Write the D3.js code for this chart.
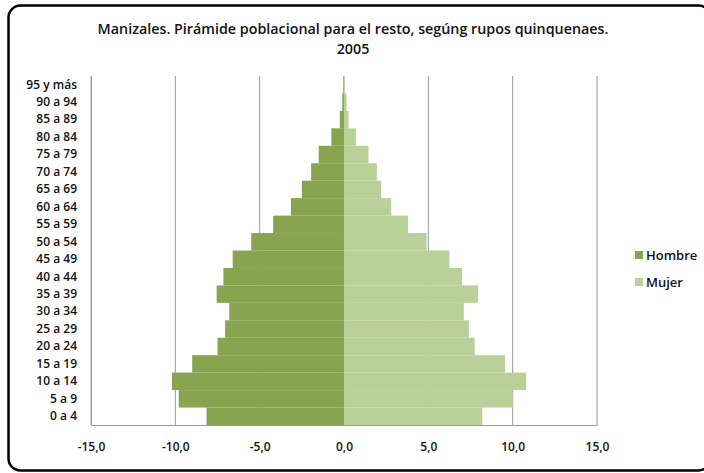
<!DOCTYPE html>
<html>
<head>
<meta charset="utf-8">
<script src="https://cdn.jsdelivr.net/npm/d3@7"></script>
<style>
  body { margin: 0; background: #fff; }
  svg text { font-family: "Open Sans", "Noto Sans", sans-serif; fill: #111; }
</style>
</head>
<body>
<div id="chart"></div>
<script>
const ageGroups = ['0 a 4', '5 a 9', '10 a 14', '15 a 19', '20 a 24', '25 a 29', '30 a 34',
  '35 a 39', '40 a 44', '45 a 49', '50 a 54', '55 a 59', '60 a 64', '65 a 69', '70 a 74',
  '75 a 79', '80 a 84', '85 a 89', '90 a 94', '95 y más'];
const hombre = [-8.15, -9.8, -10.2, -9.0, -7.5, -7.05, -6.8, -7.55, -7.15, -6.6, -5.5,
  -4.2, -3.15, -2.5, -1.95, -1.5, -0.75, -0.25, -0.1, -0.03];
const mujer = [8.2, 10.0, 10.8, 9.55, 7.75, 7.4, 7.1, 7.95, 7.0, 6.25, 4.9,
  3.8, 2.8, 2.2, 1.95, 1.45, 0.7, 0.27, 0.15, 0.03];
const xTicks = [-15, -10, -5, 0, 5, 10, 15];
const seriesNames = ['Hombre', 'Mujer'];
const seriesColors = ['#88a44f', '#b9d098'];

const width = 704, height = 473;
const margin = { top: 76, right: 107, bottom: 48, left: 91 };
const plotW = width - margin.left - margin.right;
const plotH = height - margin.top - margin.bottom;

const svg = d3.select('#chart').append('svg')
  .attr('width', width)
  .attr('height', height);

// outer rounded frame (right edge runs past the window)
svg.append('rect')
  .attr('x', 8.5).attr('y', 5.5)
  .attr('width', 702).attr('height', 465)
  .attr('rx', 12).attr('ry', 12)
  .attr('fill', '#fff')
  .attr('stroke', '#000')
  .attr('stroke-width', 2.5);

svg.append('text')
  .attr('x', 353).attr('y', 34)
  .attr('text-anchor', 'middle')
  .style('font-size', '14.3px')
  .style('font-weight', '600')
  .text('Manizales. Pirámide poblacional para el resto, segúng rupos quinquenaes.');
svg.append('text')
  .attr('x', 353).attr('y', 54)
  .attr('text-anchor', 'middle')
  .style('font-size', '14.3px')
  .style('font-weight', '600')
  .text('2005');

const g = svg.append('g')
  .attr('transform', `translate(${margin.left},${margin.top})`);

const x = d3.scaleLinear().domain([-15, 15]).range([0, plotW]);
const y = d3.scaleBand().domain(ageGroups.slice().reverse()).range([0, plotH]).padding(0);

// gridlines
g.selectAll('.grid')
  .data(xTicks)
  .enter().append('line')
  .attr('x1', d => x(d)).attr('x2', d => x(d))
  .attr('y1', 0).attr('y2', plotH)
  .attr('stroke', '#9a9a9a')
  .attr('stroke-width', 1);

g.selectAll('.bar-h')
  .data(hombre)
  .enter().append('rect')
  .attr('x', d => x(d))
  .attr('y', (d, i) => y(ageGroups[i]))
  .attr('width', d => x(0) - x(d))
  .attr('height', y.bandwidth())
  .attr('fill', seriesColors[0]);

g.selectAll('.bar-m')
  .data(mujer)
  .enter().append('rect')
  .attr('x', x(0))
  .attr('y', (d, i) => y(ageGroups[i]))
  .attr('width', d => x(d) - x(0))
  .attr('height', y.bandwidth())
  .attr('fill', seriesColors[1]);

// axes
const xAxis = g.append('g')
  .attr('transform', `translate(0,${plotH})`)
  .call(d3.axisBottom(x).tickValues(xTicks).tickSize(0).tickPadding(17)
    .tickFormat(d => d3.format('.1f')(d).replace('.', ',').replace('−', '-')));
xAxis.select('.domain').attr('stroke', '#9a9a9a');
xAxis.selectAll('text').style('font-size', '12px').style('font-weight', '600').attr('fill', '#111');

const yAxis = g.append('g')
  .call(d3.axisLeft(y).tickSize(0).tickPadding(14));
yAxis.select('.domain').attr('stroke', '#9a9a9a');
yAxis.selectAll('text').style('font-size', '12px').style('font-weight', '600').attr('fill', '#111');

// legend
const legend = svg.append('g').attr('transform', 'translate(635,255)');
seriesNames.forEach((name, i) => {
  const row = legend.append('g').attr('transform', `translate(0,${i * 27})`);
  row.append('rect')
    .attr('x', 0).attr('y', -4)
    .attr('width', 8).attr('height', 8)
    .attr('fill', seriesColors[i]);
  row.append('text')
    .attr('x', 11).attr('y', 0)
    .attr('dy', '0.35em')
    .style('font-size', '13px')
    .style('font-weight', '600')
    .text(name);
});
</script>
</body>
</html>
